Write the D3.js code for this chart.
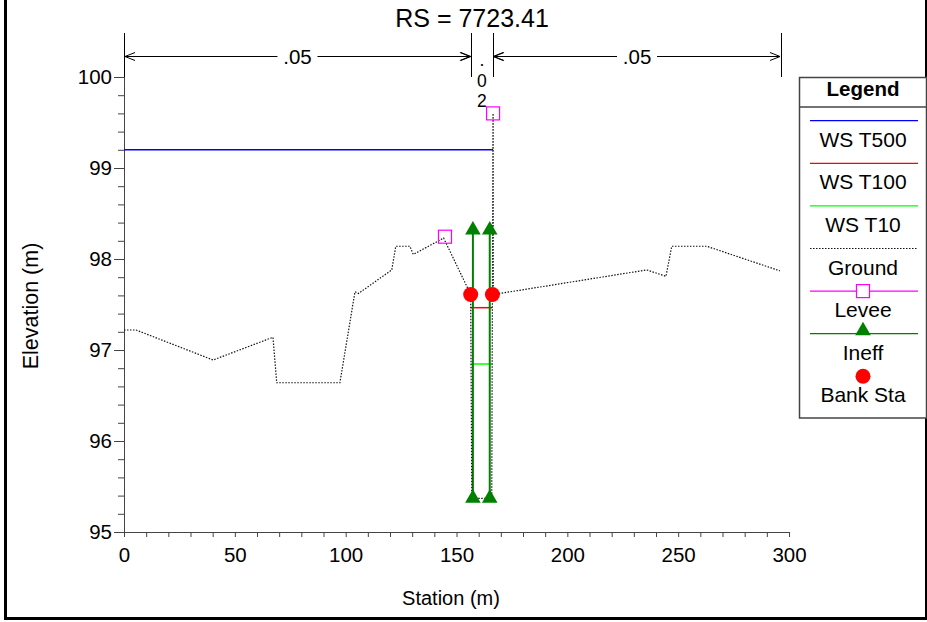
<!DOCTYPE html>
<html>
<head>
<meta charset="utf-8">
<script src="https://cdn.jsdelivr.net/npm/d3@7"></script>
<style>
  body { margin: 0; background: #fff; }
  text { font-family: "Liberation Sans", Arial, sans-serif; fill: #000; }
</style>
</head>
<body>
<div id="chart"></div>
<script>
// ---- data ----
const groundStation = [0, 5.4, 40.2, 67.2, 68.9, 97.4, 104.2, 105.7, 120.8, 122.6, 129, 130.5, 144.2,
  156.4, 156.9, 165.9, 166.2, 166.5, 166.6, 235.8, 244.5, 247.1, 262.9, 295.9];
const groundElev = [97.22, 97.22, 96.89, 97.14, 96.64, 96.64, 97.64, 97.62, 97.88, 98.14, 98.14, 98.05, 98.23,
  97.61, 95.37, 95.37, 97.61, 99.6, 97.61, 97.88, 97.81, 98.14, 98.14, 97.87];

const wsNames = ["WS T500", "WS T100", "WS T10"];
const wsElev = [99.2, 97.465, 96.846];
const wsFrom = [0, 156.4, 156.4];
const wsTo = [166.5, 166.1, 166.1];

const leveeStation = [144.8, 166.5];
const leveeElev = [98.245, 99.6];

const ineffStation = [157.4, 165.0];
const ineffBottom = [95.37, 95.37];
const ineffTop = [98.32, 98.32];

const bankStation = [156.4, 166.2];
const bankElev = [97.61, 97.61];

// Manning's n breaks
const nBreaks = [0, 156.5, 166.5, 296.4];
const nValues = [".05", ".02", ".05"];

const xTicks = [0, 50, 100, 150, 200, 250, 300];
const yTicks = [95, 96, 97, 98, 99, 100];

const legendItems = ["WS T500", "WS T100", "WS T10", "Ground", "Levee", "Ineff", "Bank Sta"];

// ---- layout ----
const width = 927, height = 622;
const plot = { left: 124, right: 789, top: 77, bottom: 532 };

const svg = d3.select("#chart").append("svg")
  .attr("width", width)
  .attr("height", height);

const x = d3.scaleLinear().domain([0, 300]).range([plot.left, plot.right]);
const y = d3.scaleLinear().domain([95, 100]).range([plot.bottom, plot.top]);

// outer frame
svg.append("rect")
  .attr("x", 5.5).attr("y", -10)
  .attr("width", 921).attr("height", 628.5)
  .attr("fill", "none").attr("stroke", "#000").attr("stroke-width", 3);

// title
svg.append("text")
  .attr("x", 472).attr("y", 27)
  .attr("text-anchor", "middle")
  .style("font-size", "25px")
  .text("RS = 7723.41");

// ---- axes ----
const axisColor = "#444";

const yMinor = d3.range(95, 100.01, 0.2).filter(v => Math.abs(v - Math.round(v)) > 0.01);
svg.append("g")
  .attr("transform", `translate(${plot.left},0)`)
  .call(d3.axisLeft(y).tickValues(yMinor).tickSize(6).tickFormat(""))
  .call(g => g.select(".domain").remove())
  .call(g => g.selectAll("line").attr("stroke", axisColor));

svg.append("g")
  .attr("transform", `translate(${plot.left},0)`)
  .call(d3.axisLeft(y).tickValues(yTicks).tickSize(10).tickPadding(2).tickFormat(d3.format("d")))
  .call(g => g.select(".domain").remove())
  .call(g => g.selectAll("line").attr("stroke", axisColor))
  .call(g => g.selectAll("text").style("font-size", "20.5px").style("font-family", "Liberation Sans, Arial, sans-serif"));

const xMinor = d3.range(0, 301, 10).filter(v => v % 50 !== 0);
svg.append("g")
  .attr("transform", `translate(0,${plot.bottom})`)
  .call(d3.axisBottom(x).tickValues(xMinor).tickSize(5).tickFormat(""))
  .call(g => g.select(".domain").remove())
  .call(g => g.selectAll("line").attr("stroke", axisColor));

svg.append("g")
  .attr("transform", `translate(0,${plot.bottom})`)
  .call(d3.axisBottom(x).tickValues(xTicks).tickSize(5).tickPadding(10).tickFormat(d3.format("d")))
  .call(g => g.select(".domain").remove())
  .call(g => g.selectAll("line").attr("stroke", axisColor))
  .call(g => g.selectAll("text").style("font-size", "20.5px").style("font-family", "Liberation Sans, Arial, sans-serif"));

// axis lines
svg.append("line")
  .attr("x1", plot.left).attr("x2", plot.right)
  .attr("y1", plot.bottom + 0.5).attr("y2", plot.bottom + 0.5)
  .attr("stroke", axisColor);
svg.append("line")
  .attr("x1", plot.left + 0.5).attr("x2", plot.left + 0.5)
  .attr("y1", 33).attr("y2", plot.bottom)
  .attr("stroke", axisColor);

// axis titles
svg.append("text")
  .attr("x", 451).attr("y", 605)
  .attr("text-anchor", "middle")
  .style("font-size", "20px")
  .text("Station (m)");

svg.append("text")
  .attr("transform", "translate(38,306) rotate(-90)")
  .attr("text-anchor", "middle")
  .style("font-size", "21.5px")
  .text("Elevation (m)");

// ---- Manning's n annotation ----
const nY = 56.5;
const nG = svg.append("g").attr("stroke", "#000").attr("fill", "none");
nBreaks.forEach(s => {
  nG.append("line")
    .attr("x1", Math.round(x(s)) + 0.5).attr("x2", Math.round(x(s)) + 0.5)
    .attr("y1", 33).attr("y2", 77);
});
nValues.forEach((v, i) => {
  const x0 = x(nBreaks[i]) + 1, x1 = x(nBreaks[i + 1]) - 1;
  if (x1 - x0 > 60) {
    const mid = (x0 + x1) / 2;
    const half = 20;
    nG.append("line").attr("x1", x0).attr("x2", mid - half).attr("y1", nY).attr("y2", nY);
    nG.append("line").attr("x1", mid + half).attr("x2", x1).attr("y1", nY).attr("y2", nY);
    nG.append("path").attr("d", `M${x0 + 10},${nY - 4}L${x0},${nY}L${x0 + 10},${nY + 4}`);
    nG.append("path").attr("d", `M${x1 - 10},${nY - 4}L${x1},${nY}L${x1 - 10},${nY + 4}`);
    svg.append("text")
      .attr("x", mid).attr("y", nY + 7)
      .attr("text-anchor", "middle")
      .style("font-size", "20.5px")
      .text(v);
  } else {
    // narrow span: arrows point inward from outside, label stacked one char per line
    nG.append("path").attr("d", `M${x0 - 11},${nY - 4}L${x0 - 1},${nY}L${x0 - 11},${nY + 4}`);
    nG.append("path").attr("d", `M${x1 + 11},${nY - 4}L${x1 + 1},${nY}L${x1 + 11},${nY + 4}`);
    const mid = (x0 + x1) / 2;
    v.split("").forEach((c, k) => {
      svg.append("text")
        .attr("x", mid).attr("y", 66 + k * 20.5)
        .attr("text-anchor", "middle")
        .style("font-size", "17.5px")
        .text(c);
    });
  }
});

// ---- data layers ----
const lineGen = d3.line().x(d => x(d[0])).y(d => y(d[1]));
const wsColors = ["#0000ff", "#ff0000", "#00ff00"];

// water surfaces
wsNames.forEach((n, i) => {
  svg.append("path")
    .datum([[wsFrom[i], wsElev[i]], [wsTo[i], wsElev[i]]])
    .attr("d", lineGen)
    .attr("fill", "none")
    .attr("stroke", wsColors[i])
    .attr("stroke-width", 1.5);
});

// ineffective flow
const ineffColor = "#008000";
ineffStation.forEach((s, i) => {
  svg.append("path")
    .datum([[s, ineffBottom[i]], [s, ineffTop[i]]])
    .attr("d", lineGen)
    .attr("fill", "none")
    .attr("stroke", ineffColor)
    .attr("stroke-width", 2);
});

// ground
svg.append("path")
  .datum(groundStation.map((s, i) => [s, groundElev[i]]))
  .attr("d", lineGen)
  .attr("fill", "none")
  .attr("stroke", "#111")
  .attr("stroke-width", 1.2)
  .attr("stroke-dasharray", "1.5,1.5");

const tri = d3.symbol().type(d3.symbolTriangle).size(105);
ineffStation.forEach((s, i) => {
  [ineffBottom[i], ineffTop[i]].forEach(e => {
    svg.append("path")
      .attr("d", tri)
      .attr("transform", `translate(${x(s)},${y(e)})`)
      .attr("fill", ineffColor);
  });
});

// levee markers
leveeStation.forEach((s, i) => {
  svg.append("rect")
    .attr("x", x(s) - 6.5).attr("y", y(leveeElev[i]) - 6.5)
    .attr("width", 13).attr("height", 13)
    .attr("fill", "none")
    .attr("stroke", "#ff00ff")
    .attr("stroke-width", 1.2);
});

// bank stations
bankStation.forEach((s, i) => {
  svg.append("circle")
    .attr("cx", x(s)).attr("cy", y(bankElev[i]))
    .attr("r", 7.5)
    .attr("fill", "#ff0000");
});

// ---- legend ----
const lg = svg.append("g");
const lgX = 799.5, lgW = 127, lgTop = 77.5, lgBottom = 418;
const lgMid = lgX + lgW / 2;
lg.append("rect")
  .attr("x", lgX).attr("y", lgTop)
  .attr("width", lgW).attr("height", lgBottom - lgTop)
  .attr("fill", "#fff").attr("stroke", "#444").attr("stroke-width", 1.5);
lg.append("line")
  .attr("x1", lgX).attr("x2", lgX + lgW)
  .attr("y1", 107).attr("y2", 107)
  .attr("stroke", "#444").attr("stroke-width", 1.5);
lg.append("text")
  .attr("x", lgMid).attr("y", 96)
  .attr("text-anchor", "middle")
  .style("font-size", "20.5px").style("font-weight", "bold")
  .text("Legend");

legendItems.forEach((name, i) => {
  const ly = 120.7 + i * 42.6;
  const x0 = 810, x1 = 918;
  if (i < 3) {
    lg.append("line").attr("x1", x0).attr("x2", x1).attr("y1", ly).attr("y2", ly)
      .attr("stroke", wsColors[i]).attr("stroke-width", 1.3);
  } else if (name === "Ground") {
    lg.append("line").attr("x1", x0).attr("x2", x1).attr("y1", ly).attr("y2", ly)
      .attr("stroke", "#111").attr("stroke-width", 1.2).attr("stroke-dasharray", "1.5,1.5");
  } else if (name === "Levee") {
    lg.append("line").attr("x1", x0).attr("x2", x1).attr("y1", ly).attr("y2", ly)
      .attr("stroke", "#ff00ff").attr("stroke-width", 1.3);
    lg.append("rect").attr("x", lgMid - 6.5).attr("y", ly - 6.5).attr("width", 13).attr("height", 13)
      .attr("fill", "#fff").attr("stroke", "#ff00ff").attr("stroke-width", 1.2);
  } else if (name === "Ineff") {
    lg.append("line").attr("x1", x0).attr("x2", x1).attr("y1", ly).attr("y2", ly)
      .attr("stroke", ineffColor).attr("stroke-width", 1.3);
    lg.append("path").attr("d", tri).attr("transform", `translate(${lgMid},${ly - 3})`).attr("fill", ineffColor);
  } else {
    lg.append("circle").attr("cx", lgMid).attr("cy", ly).attr("r", 7.5).attr("fill", "#ff0000");
  }
  lg.append("text")
    .attr("x", lgMid).attr("y", ly + 26)
    .attr("text-anchor", "middle")
    .style("font-size", "21px")
    .text(name);
});
</script>
</body>
</html>
